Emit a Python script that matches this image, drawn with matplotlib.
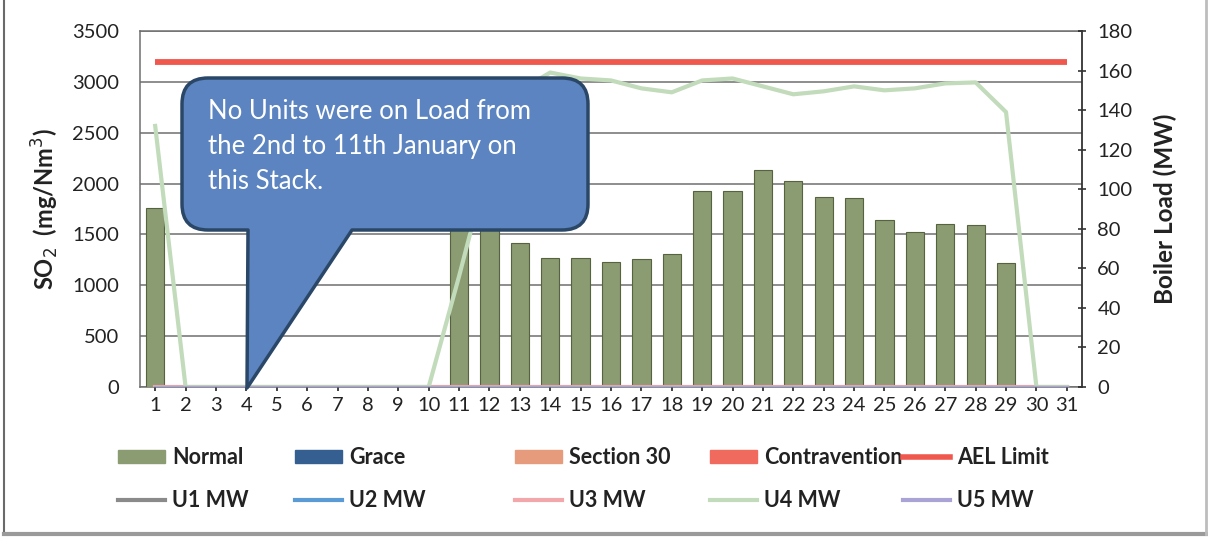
import matplotlib
matplotlib.use("Agg")
import matplotlib.pyplot as plt
from matplotlib.path import Path
from matplotlib.patches import PathPatch, Patch
from matplotlib.lines import Line2D
import numpy as np

plt.rcParams['font.family'] = ['Lato', 'DejaVu Sans']

days = list(range(1, 32))
normal = [1760, 0, 0, 0, 0, 0, 0, 0, 0, 0, 1600, 1750, 1420, 1270, 1270, 1225, 1260, 1310,
          1930, 1930, 2135, 2025, 1870, 1860, 1645, 1525, 1605, 1595, 1215, 0, 0]
ael_limit = [3200] * 31
u4_mw = [132, 0, 0, 0, 0, 0, 0, 0, 0, 0, 56, 115, 150, 159, 156, 155, 151, 149,
         155, 156, 152, 148, 149.5, 152, 150, 151, 153.5, 154, 139, 0, 0]
u1_mw = [0] * 31
u2_mw = [0] * 31
u3_mw = [0] * 31
u5_mw = [0] * 31
callout_text = "No Units were on Load from\nthe 2nd to 11th January on\nthis Stack."

W, H = 1208, 540
fig = plt.figure(figsize=(W / 100, H / 100), dpi=100)
ax = fig.add_axes([140 / W, 1 - 387 / H, (1082 - 140) / W, (387 - 31) / H])
ax2 = ax.twinx()

c_normal = '#8b9b72'
c_grace = '#365f91'
c_s30 = '#e69c7c'
c_contra = '#f06a5e'
c_ael = '#f0584e'
c_u1 = '#8a8a8a'
c_u2 = '#5b9bd5'
c_u3 = '#f2a7aa'
c_u4 = '#c2dbbb'
c_u5 = '#aaa3d6'

ax.bar(days, normal, width=0.6, color=c_normal, edgecolor='#55633f', linewidth=0.8, zorder=3)
ax.plot(days, ael_limit, color=c_ael, lw=4.2, zorder=4, solid_capstyle='butt')
ax.set_xlim(0.5, 31.5)
ax.set_ylim(0, 3500)
ax.set_yticks(np.arange(0, 3501, 500))
ax.set_xticks(days)
ax.grid(axis='y', color='#6f6f6f', lw=1.1, zorder=0)
ax.set_axisbelow(True)
ax.tick_params(axis='y', length=0, labelsize=14.5, pad=15, colors='#222222')
ax.tick_params(axis='x', length=3, width=1.2, labelsize=14.5, colors='#222222', pad=4)
for s in ['left', 'bottom', 'top']:
    ax.spines[s].set_color('#6f6f6f')
    ax.spines[s].set_linewidth(1.1)
ax.spines['right'].set_visible(False)
ax.set_ylabel('SO$_2$  (mg/Nm$^3$)', fontsize=17, fontweight='bold', color='#222222', labelpad=8)

ax2.plot(days, u1_mw, color=c_u1, lw=2.5, zorder=3)
ax2.plot(days, u2_mw, color=c_u2, lw=2.5, zorder=3)
ax2.plot(days, u3_mw, color=c_u3, lw=3, zorder=3)
ax2.plot(days, u4_mw, color=c_u4, lw=3, zorder=4)
ax2.plot(days, u5_mw, color=c_u5, lw=2.5, zorder=4)
ax2.set_ylim(0, 180)
ax2.set_yticks(np.arange(0, 181, 20))
ax2.tick_params(axis='y', direction='inout', length=6, width=1.1, labelsize=14.5, pad=8, colors='#222222')
ax2.spines['right'].set_color('#333333')
ax2.spines['right'].set_linewidth(1.3)
for s in ['left', 'top', 'bottom']:
    ax2.spines[s].set_visible(False)
ax2.set_ylabel('Boiler Load (MW)', fontsize=17.5, fontweight='bold', color='#222222', labelpad=15)

# callout shape (figure pixel coordinates)
L, R, T, B, r = 182, 588, 78, 230, 26
ta, tb, tip = 248, 352, (247, 388)
def P(x, y):
    return (x / W, 1 - y / H)
verts = [P(L + r, T), P(R - r, T), P(R, T), P(R, T + r), P(R, B - r), P(R, B), P(R - r, B),
         P(tb, B), P(*tip), P(ta, B), P(L + r, B), P(L, B), P(L, B - r), P(L, T + r), P(L, T),
         P(L + r, T), P(L + r, T)]
codes = [Path.MOVETO, Path.LINETO, Path.CURVE3, Path.CURVE3, Path.LINETO, Path.CURVE3, Path.CURVE3,
         Path.LINETO, Path.LINETO, Path.LINETO, Path.LINETO, Path.CURVE3, Path.CURVE3, Path.LINETO,
         Path.CURVE3, Path.CURVE3, Path.CLOSEPOLY]
patch = PathPatch(Path(verts, codes), facecolor='#5b84c0', edgecolor='#2b4768', lw=2.5,
                  transform=fig.transFigure, zorder=10, joinstyle='round')
fig.patches.append(patch)
fig.text(208 / W, 1 - 99 / H, callout_text, color='white', fontsize=18.5, va='top', ha='left',
         linespacing=1.5, zorder=11)

# legends
fs = 15.5
col_x = [118, 295, 515, 710, 903]
row_handles = [
    [Patch(facecolor=c_normal, edgecolor=c_normal), Line2D([], [], color=c_u1, lw=3)],
    [Patch(facecolor=c_grace, edgecolor=c_grace), Line2D([], [], color=c_u2, lw=3)],
    [Patch(facecolor=c_s30, edgecolor=c_s30), Line2D([], [], color=c_u3, lw=3)],
    [Patch(facecolor=c_contra, edgecolor=c_contra), Line2D([], [], color=c_u4, lw=3)],
    [Line2D([], [], color=c_ael, lw=4), Line2D([], [], color=c_u5, lw=3)],
]
row_labels = [['Normal', 'U1 MW'], ['Grace', 'U2 MW'], ['Section 30', 'U3 MW'],
              ['Contravention', 'U4 MW'], ['AEL Limit', 'U5 MW']]
for x, hs, ls in zip(col_x, row_handles, row_labels):
    leg = fig.legend(hs, ls, loc='center left', bbox_to_anchor=(x / W, 1 - 479 / H), frameon=False,
                     prop={'weight': 'bold', 'size': fs}, handlelength=2.2,
                     handleheight=0.55, handletextpad=0.3, borderpad=0, borderaxespad=0,
                     labelspacing=1.05)
    for t in leg.get_texts():
        t.set_color('#222222')

# outer border
fig.add_artist(Line2D([4 / W, 4 / W], [1 - 534 / H, 1], transform=fig.transFigure, color='#6a6a6a', lw=1.5))
fig.add_artist(Line2D([4 / W, 1206 / W], [1 - 534 / H, 1 - 534 / H], transform=fig.transFigure, color='#9a9a9a', lw=3))
fig.add_artist(Line2D([1206 / W, 1206 / W], [1 - 534 / H, 1], transform=fig.transFigure, color='#bdbdbd', lw=2))

fig.savefig('out.png', dpi=100)
